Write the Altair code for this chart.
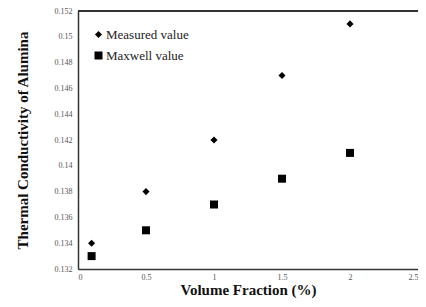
import altair as alt
import pandas as pd

volume_fraction = [0.1, 0.5, 1.0, 1.5, 2.0]
measured = [0.134, 0.138, 0.142, 0.147, 0.151]
maxwell = [0.133, 0.135, 0.137, 0.139, 0.141]
series_names = ["Measured value", "Maxwell value"]

rows = []
for x, m, w in zip(volume_fraction, measured, maxwell):
    rows.append({"x": x, "y": m, "series": series_names[0]})
    rows.append({"x": x, "y": w, "series": series_names[1]})
df = pd.DataFrame(rows)

FONT = "Liberation Serif"

legend = alt.Legend(title=None, orient="none", legendX=14, legendY=17,
                    symbolFillColor="black", symbolStrokeColor="black",
                    labelFont=FONT, labelFontSize=13,
                    labelColor="#222", rowPadding=6, padding=0, labelOffset=1)

points = alt.Chart(df).mark_point(filled=True, opacity=1, color="black").encode(
    x=alt.X("x:Q", scale=alt.Scale(domain=[0, 2.5], nice=False),
            axis=alt.Axis(values=[0, 0.5, 1, 1.5, 2, 2.5], title="Volume Fraction (%)",
                          labelFlush=True,
                          labelExpr="datum.value == 0 ? '0' : format(datum.value, '~g')")),
    y=alt.Y("y:Q", scale=alt.Scale(domain=[0.132, 0.152], nice=False, zero=False),
            axis=alt.Axis(values=[0.132, 0.134, 0.136, 0.138, 0.14, 0.142, 0.144, 0.146, 0.148, 0.15, 0.152],
                          title="Thermal Conductivity of Alumina",
                          labelExpr="format(datum.value, '~g')")),
    shape=alt.Shape("series:N", scale=alt.Scale(domain=series_names, range=["diamond", "square"]),
                    legend=legend),
    size=alt.Size("series:N", scale=alt.Scale(domain=series_names, range=[50, 64]), legend=legend),
)

top_line = alt.Chart(df).mark_rule(color="#333", strokeWidth=1.5).encode(y=alt.value(0))

chart = alt.layer(points, top_line).properties(
    width=340, height=258,
    autosize=alt.AutoSizeParams(type="none"),
    padding={"left": 70, "top": 3, "right": 0, "bottom": 30},
).configure_view(
    stroke="#999", strokeWidth=1
).configure_axis(
    grid=False, ticks=False, domainColor="#333", domainWidth=1.5,
    labelFont=FONT, labelFontSize=8, labelColor="#555", labelPadding=4,
    titleFont=FONT, titleFontSize=15, titleFontWeight="bold", titleColor="#111",
).configure_axisY(titlePadding=24, labelPadding=6).configure_axisX(titlePadding=1)

chart.save("out.html", embed_options={"renderer": "svg", "actions": False})
